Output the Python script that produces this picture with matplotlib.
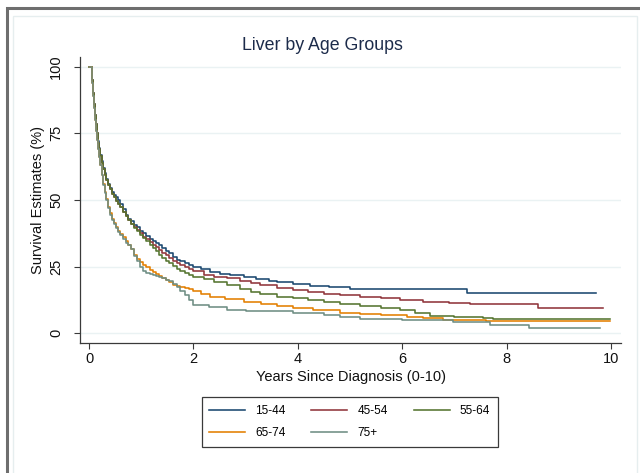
import matplotlib
matplotlib.use("Agg")
import matplotlib.pyplot as plt
from matplotlib.patches import Rectangle

# ---- data ----
groups = ["15-44", "45-54", "55-64", "65-74", "75+"]
colors = ["#1a476f", "#90353b", "#55752f", "#e37e00", "#6e8e84"]

t_early = [0, 0.05, 0.07, 0.09, 0.11, 0.13, 0.15, 0.17, 0.19, 0.21, 0.24, 0.27, 0.30, 0.33, 0.37, 0.41,
           0.45, 0.48, 0.52, 0.56, 0.60, 0.65, 0.70, 0.75, 0.80, 0.86, 0.92, 0.98, 1.04, 1.10, 1.16,
           1.22, 1.28, 1.34, 1.40, 1.47, 1.54, 1.61, 1.68, 1.75, 1.83, 1.91, 2.0]

t_1544 = t_early + [2.15, 2.32, 2.5, 2.7, 2.96, 3.2, 3.45, 3.6, 3.9, 4.23, 4.6, 5.0, 5.6, 7.25, 9.72]
s_1544 = [100, 95, 90, 86, 82, 78.5, 75, 72, 69.5, 67, 64.5, 62, 60, 58, 56, 54.5,
          53, 52, 51, 50, 48.5, 46.5, 44.5, 43, 42, 40.8, 39.7, 38.5, 37.5, 36.5, 35.5,
          34.5, 33.8, 33, 32, 31, 30, 28.8, 27.6, 27, 26.3, 25.6, 25,
          24, 23.1, 22.4, 21.7, 21, 20.4, 19.8, 19.4, 18.6, 17.7, 17.2, 16.8, 16.5, 15.3, 15.3]

t_4554 = t_early + [2.2, 2.4, 2.64, 2.9, 3.1, 3.28, 3.6, 3.91, 4.2, 4.5, 4.81, 5.19, 5.6, 5.96,
                    6.4, 6.9, 7.3, 8.6, 9.85]
s_4554 = [100, 95, 90, 86, 82, 78.5, 75, 71.5, 69, 66.5, 64, 61.5, 59.5, 57.5, 55.5, 54,
          52.3, 51, 49.8, 48.5, 47.2, 45.5, 44, 42.5, 41, 39.8, 38.6, 37.5, 36.3, 35.2, 34.2,
          33.2, 32.2, 31.2, 30.2, 29.2, 28.2, 27.2, 26.3, 25.5, 24.7, 24, 23.2,
          22, 21.3, 20.6, 19.5, 18.8, 18.1, 17, 16.2, 15.4, 14.8, 14.4, 13.7, 13.1, 12.5,
          11.9, 11.5, 11.0, 9.5, 9.5]

t_5564 = t_early + [2.2, 2.4, 2.64, 2.9, 3.1, 3.28, 3.6, 3.91, 4.2, 4.5, 4.81, 5.19, 5.6, 5.96,
                    6.25, 6.53, 7.0, 7.36, 7.55, 7.74, 9.99]
s_5564 = [100, 95, 90, 86, 82, 78.5, 75, 71.5, 69, 66.5, 64, 61.5, 59.5, 57.5, 55.5, 54,
          52.3, 51, 49.8, 48.5, 47.2, 45.5, 44, 42.5, 41, 39.6, 38.3, 37, 35.8, 34.5, 33.3,
          32, 30.8, 29.5, 28.4, 27.3, 26.2, 25.2, 24.3, 23.5, 22.7, 22, 21.2,
          20.2, 19.2, 18.1, 16.5, 15.5, 14.7, 13.8, 13.1, 12.5, 11.6, 10.9, 10.2, 9.5, 8.75,
          7.6, 6.6, 6.3, 6.2, 5.7, 5.25, 5.25]

t_6574 = t_early + [2.15, 2.32, 2.6, 2.96, 3.3, 3.6, 3.91, 4.3, 4.81, 5.19, 5.6, 6.09, 6.4, 6.79,
                    7.6, 9.99]
s_6574 = [100, 94, 89, 84.5, 80, 76, 72.5, 69, 66, 63, 59.5, 56, 53, 50.5, 47.5, 45,
          43, 41.5, 40, 38.5, 37.3, 36, 34.5, 33, 31.5, 29.5, 28, 26.8, 25.8, 24.8, 23.8,
          23, 22.2, 21.5, 20.8, 20, 19.2, 18.3, 17.7, 17.3, 17, 16.5, 16,
          14.8, 13.7, 12.8, 11.9, 11, 10.2, 9.4, 8.6, 7.5, 7.1, 6.7, 6.25, 5.8, 5.0, 4.6, 4.6]

t_75p = t_early + [2.3, 2.64, 3.0, 3.91, 4.5, 4.81, 5.2, 6.0, 6.98, 7.68, 8.42, 9.78]
s_75p = [100, 94, 89, 84.5, 80, 76, 72.5, 69, 66, 63, 59.5, 55.5, 52.5, 50, 47, 44.5,
         42.5, 41, 39.5, 38, 37, 35.5, 34, 33, 31.5, 29, 27, 25, 23.5, 22.5, 22.3,
         22, 21.6, 21, 20.6, 20.1, 19.6, 18.5, 17.5, 16, 14.3, 12.5, 10.8,
         10.0, 8.75, 8.2, 7.5, 6.8, 6.25, 5.25, 5.0, 4.4, 3.1, 1.9, 1.9]

times = [t_1544, t_4554, t_5564, t_6574, t_75p]
survs = [s_1544, s_4554, s_5564, s_6574, s_75p]

x_ticks = [0, 2, 4, 6, 8, 10]
y_ticks = [0, 25, 50, 75, 100]

# ---- figure ----
W, H = 640, 473
plt.rcParams['font.family'] = ['Liberation Sans', 'DejaVu Sans']
fig = plt.figure(figsize=(W / 100, H / 100), dpi=100)

# outer frames (cropped graph region)
fig.patches.append(Rectangle((6.5 / W, -0.2), 1.2, 1 - 8 / H + 0.2, transform=fig.transFigure,
                             fill=False, edgecolor="#6e6e6e", lw=2.2, zorder=0))
fig.patches.append(Rectangle((13 / W, -0.2), (637 - 13) / W, 1 - 16 / H + 0.2, transform=fig.transFigure,
                             fill=False, edgecolor="#e6eeef", lw=1.0, zorder=0))

left, right, bottom, top = 80, 621, 343.3, 56.7
ax = fig.add_axes([left / W, 1 - bottom / H, (right - left) / W, (bottom - top) / H])
ax.set_facecolor("white")

lines = []
for t, s, c, g in zip(times, survs, colors, groups):
    ln, = ax.plot(t, s, drawstyle="steps-post", color=c, lw=1.15, label=g, zorder=3)
    lines.append(ln)

x0 = -9 / 52.2
ax.set_xlim(x0, x0 + (right - left) / 52.2)
ax.set_ylim(-3.75, 103.75)

ax.set_xticks(x_ticks)
ax.set_yticks(y_ticks)
ax.set_yticklabels([str(v) for v in y_ticks], rotation=90, va="center")
ax.grid(axis="y", color="#eaf2f3", lw=1.0, zorder=0)
ax.grid(axis="x", visible=False)

for sp in ["top", "right"]:
    ax.spines[sp].set_visible(False)
for sp in ["left", "bottom"]:
    ax.spines[sp].set_color("#3a3a3a")
    ax.spines[sp].set_linewidth(0.9)

ax.tick_params(axis="x", direction="out", length=4, width=0.8, color="#3a3a3a",
               labelsize=10.5, pad=2.5, labelcolor="#111111")
ax.tick_params(axis="y", direction="out", length=4.5, width=0.8, color="#3a3a3a",
               labelsize=10.5, pad=7.5, labelcolor="#111111")

ax.set_xlabel("Years Since Diagnosis (0-10)", fontsize=10.5, color="#111111", labelpad=3)
ax.set_ylabel("Survival Estimates (%)", fontsize=10.5, color="#111111", labelpad=3)
fig.text(322 / W, 1 - 45 / H, "Liver by Age Groups", ha="center", va="center",
         fontsize=12.8, color="#1c2b4a")

# legend: row-wise order like the reference
order = [0, 3, 1, 4, 2]
leg = fig.legend([lines[i] for i in order], [groups[i] for i in order],
                 loc="upper left", bbox_to_anchor=(209 / W, 1 - 405 / H), bbox_transform=fig.transFigure,
                 ncol=3, fontsize=8.5, frameon=False, handlelength=3.05,
                 handletextpad=0.85, columnspacing=2.2, borderpad=0, labelspacing=0.86,
                 borderaxespad=0)
fig.patches.append(Rectangle((202 / W, 1 - 447 / H), 296 / W, 50 / H, transform=fig.transFigure,
                             fill=False, edgecolor="#3a3a3a", lw=0.9, zorder=1))

fig.savefig("out.png", dpi=100)
